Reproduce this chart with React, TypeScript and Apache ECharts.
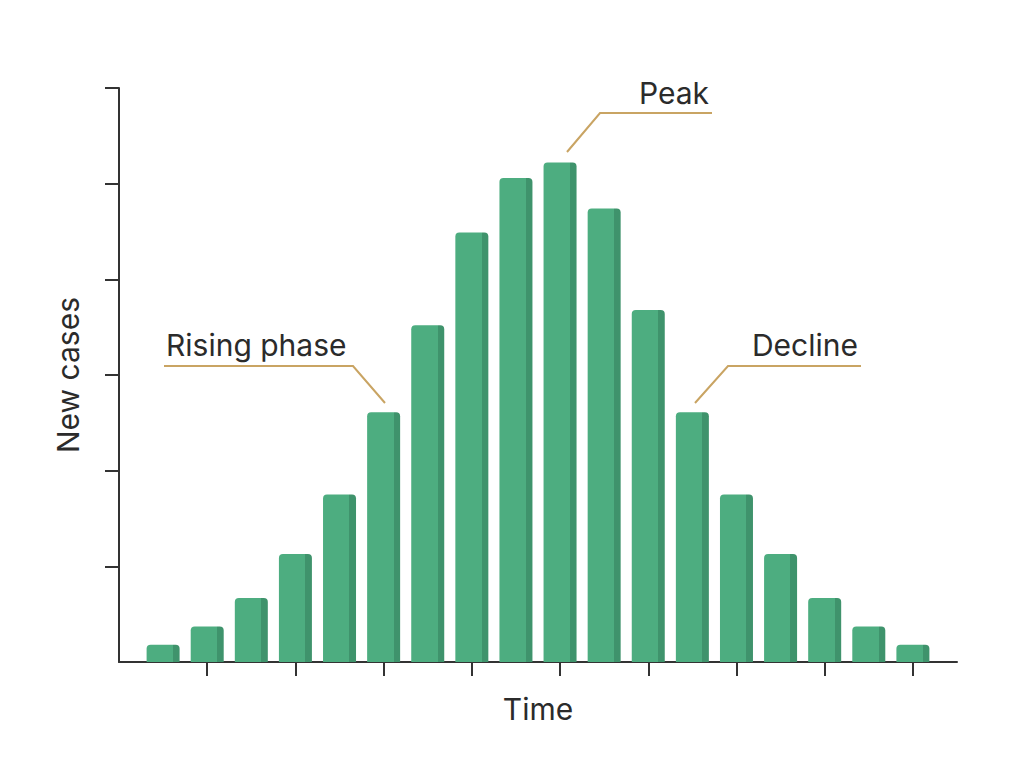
import React, { useEffect, useRef } from "react";
import * as echarts from "echarts";

const categories = ["0","1","2","3","4","5","6","7","8","9","10","11","12","13","14","15","16","17","18","19"];
const newCases: (number | null)[] = [null, 0.18, 0.37, 0.67, 1.13, 1.75, 2.61, 3.52, 4.49, 5.06, 5.22, 4.74, 3.68, 2.61, 1.75, 1.13, 0.67, 0.37, 0.18, null];
const yTickValues = [1, 2, 3, 4, 5, 6];
const xAxisTitle = "Time";
const yAxisTitle = "New cases";
const annotations = ["Rising phase", "Peak", "Decline"];

export default function App() {
  const ref = useRef<HTMLDivElement>(null);
  useEffect(() => {
    if (!ref.current) return;
    const chart = echarts.init(ref.current, null, { renderer: "svg" });
    const txt = "#2b2b2b";
    const gold = "#C9A463";
    const font = "Inter, 'Noto Sans', sans-serif";
    const fs = 30;
    const barColor = new echarts.graphic.LinearGradient(0, 0, 1, 0, [
      { offset: 0, color: "#4DAD80" },
      { offset: 0.8, color: "#4DAD80" },
      { offset: 0.8, color: "#3F936C" },
      { offset: 1, color: "#3F936C" },
    ]);
    chart.setOption({
      animation: false,
      backgroundColor: "#ffffff",
      grid: { left: 119, right: 67, top: 88, bottom: 103, containLabel: false },
      xAxis: {
        type: "category",
        data: categories,
        boundaryGap: false,
        name: xAxisTitle,
        nameLocation: "middle",
        nameGap: 32,
        nameTextStyle: { color: txt, fontSize: fs, fontFamily: font },
        axisLine: { lineStyle: { color: "#333", width: 2 } },
        axisTick: {
          show: true,
          length: 14,
          interval: (i: number) => i > 0 && i % 2 === 0,
          lineStyle: { color: "#333", width: 2 },
        },
        axisLabel: { show: false },
        splitLine: { show: false },
      },
      yAxis: {
        type: "value",
        min: 0,
        max: 6,
        interval: 1,
        name: yAxisTitle,
        nameLocation: "middle",
        nameGap: 36,
        nameRotate: 90,
        nameTextStyle: { color: txt, fontSize: fs, fontFamily: font },
        axisLine: { show: true, lineStyle: { color: "#333", width: 2 } },
        axisTick: { show: true, length: 14, customValues: yTickValues, lineStyle: { color: "#333", width: 2 } },
        axisLabel: { show: false },
        splitLine: { show: false },
      },
      series: [
        {
          type: "bar",
          data: newCases,
          barWidth: 33,
          itemStyle: { color: barColor, borderRadius: [4, 4, 0, 0] },
        },
      ],
      graphic: [
        { type: "polyline", shape: { points: [[164, 366], [353, 366], [385, 403]] }, style: { stroke: gold, lineWidth: 2, fill: "none" } },
        { type: "text", x: 166, y: 345, style: { text: annotations[0], fill: txt, font: `${fs}px ${font}`, verticalAlign: "middle" } },
        { type: "polyline", shape: { points: [[567, 152], [600, 113], [712, 113]] }, style: { stroke: gold, lineWidth: 2, fill: "none" } },
        { type: "text", x: 709, y: 93, style: { text: annotations[1], fill: txt, font: `${fs}px ${font}`, align: "right", verticalAlign: "middle" } },
        { type: "polyline", shape: { points: [[695, 403], [728, 366], [861, 366]] }, style: { stroke: gold, lineWidth: 2, fill: "none" } },
        { type: "text", x: 858, y: 345, style: { text: annotations[2], fill: txt, font: `${fs}px ${font}`, align: "right", verticalAlign: "middle" } },
      ],
    });
    return () => chart.dispose();
  }, []);
  return <div ref={ref} style={{ position: "fixed", left: 0, top: 0, width: 1024, height: 765 }} />;
}
